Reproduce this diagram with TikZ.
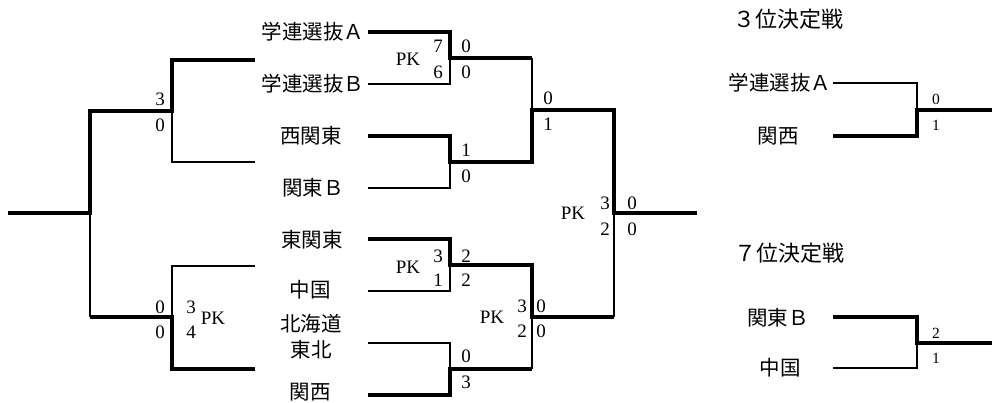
\documentclass[tikz,border=0pt]{standalone}
\usepackage{fontspec}
\setmainfont{Liberation Serif}
\newfontfamily\jpfont{Noto Sans CJK JP}
\usepackage{tikz}
\tikzstyle{team} = [inner sep=0pt, align=center, font=\jpfont\fontsize{20.5}{26}\selectfont]
\tikzstyle{title} = [inner sep=0pt, anchor=west, font=\jpfont\fontsize{22}{26}\selectfont]
\tikzstyle{score} = [inner sep=0pt, font=\fontsize{19}{19}\selectfont]
\tikzstyle{sscore} = [inner sep=0pt, font=\fontsize{15.5}{15.5}\selectfont]
\tikzstyle{win} = [draw, line width=4.2pt]
\tikzstyle{lose} = [draw, line width=1.6pt]

\begin{document}
\begin{tikzpicture}[x=1pt, y=-1pt]
				\useasboundingbox (0,0) rectangle (992,403);

				% teams
				\node [team] (gakuA) at (313,32) {学連選抜Ａ};
				\node [team] (gakuB) at (313,84) {学連選抜Ｂ};
				\node [team] (nishikanto) at (311,136) {西関東};
				\node [team] (kantoB) at (313,188) {関東Ｂ};
				\node [team] (higashikanto) at (312,240) {東関東};
				\node [team] (chugoku) at (310,290) {中国};
				\node [team] (hokkaido) at (311,337) {北海道\\東北};
				\node [team] (kansai) at (310,392) {関西};

				% bracket corners
				\coordinate (a1) at (368,32);
				\coordinate (a2) at (368,84);
				\coordinate (a3) at (368,136);
				\coordinate (a4) at (368,188);
				\coordinate (a5) at (368,239);
				\coordinate (a6) at (368,291);
				\coordinate (a7) at (368,343);
				\coordinate (a8) at (368,395);
				\coordinate (b1) at (450,58);
				\coordinate (b2) at (450,162);
				\coordinate (b3) at (450,265);
				\coordinate (b4) at (450,369);
				\coordinate (c1) at (532,110);
				\coordinate (c2) at (532,317);
				\coordinate (d1) at (614,213);
				\coordinate (e1) at (697,213);

				\path [win] (a1) -| (b1) -- (b1 -| c1);
				\path [lose] (a2) -| (b1);
				\path [win] (a3) -| (b2) -| (c1) -| (d1) -- (e1);
				\path [lose] (a4) -| (b2);
				\path [win] (a5) -| (b3) -| (c2) -- (c2 -| d1);
				\path [lose] (a6) -| (b3);
				\path [lose] (a7) -| (b4);
				\path [win] (a8) -| (b4) -- (b4 -| c2);
				\path [lose] (b1 -| c1) -- (c1);
				\path [lose] (b4 -| c2) -- (c2);
				\path [lose] (c2 -| d1) -- (d1);

				% scores
				\node [score] (m1pk) at (408,59) {PK};
				\node [score] (m1a) at (438,46) {7};
				\node [score] (m1b) at (438,72) {6};
				\node [score] (m1c) at (466,46) {0};
				\node [score] (m1d) at (466,72) {0};
				\node [score] (m2a) at (466,150) {1};
				\node [score] (m2b) at (466,176) {0};
				\node [score] (m3pk) at (408,267) {PK};
				\node [score] (m3a) at (438,256) {3};
				\node [score] (m3b) at (438,280) {1};
				\node [score] (m3c) at (466,256) {2};
				\node [score] (m3d) at (466,280) {2};
				\node [score] (m4a) at (466,356) {0};
				\node [score] (m4b) at (466,382) {3};
				\node [score] (s1a) at (548,98) {0};
				\node [score] (s1b) at (548,124) {1};
				\node [score] (s2pk) at (492,317) {PK};
				\node [score] (s2a) at (522,306) {3};
				\node [score] (s2b) at (522,331) {2};
				\node [score] (s2c) at (541,306) {0};
				\node [score] (s2d) at (541,331) {0};
				\node [score] (fpk) at (573,213) {PK};
				\node [score] (fa) at (605,203) {3};
				\node [score] (fb) at (605,229) {2};
				\node [score] (fc) at (632,203) {0};
				\node [score] (fd) at (632,229) {0};

				% left bracket
				\coordinate (l0) at (8,213);
				\coordinate (l1) at (90,213);
				\coordinate (l2) at (172,111);
				\coordinate (l3) at (255,60);
				\coordinate (l4) at (255,162);
				\coordinate (l5) at (172,317);
				\coordinate (l6) at (255,266);
				\coordinate (l7) at (255,369);

				\path [win] (l0) -- (l1) |- (l2) |- (l3);
				\path [lose] (l2) |- (l4);
				\path [lose] (l1) -- (l1 |- l5);
				\path [win] (l1 |- l5) -- (l5) |- (l7);
				\path [lose] (l5) |- (l6);

				\node [score] (lu1) at (160,99) {3};
				\node [score] (lu2) at (160,125) {0};
				\node [score] (ll1) at (160,307) {0};
				\node [score] (ll2) at (160,332) {0};
				\node [score] (ll3) at (191,307) {3};
				\node [score] (ll4) at (191,332) {4};
				\node [score] (llpk) at (213,318) {PK};

				% 3rd place
				\node [title] (title3) at (733,19) {３位決定戦};
				\node [team] (gakuA3) at (780,83) {学連選抜Ａ};
				\node [team] (kansai3) at (778,136) {関西};
				\coordinate (q1) at (833,83);
				\coordinate (q2) at (833,136);
				\coordinate (q3) at (917,110);
				\coordinate (q4) at (992,110);
				\path [lose] (q1) -| (q3);
				\path [win] (q2) -| (q3) -- (q4);
				\node [sscore] (t3a) at (936,99) {0};
				\node [sscore] (t3b) at (936,125) {1};

				% 7th place
				\node [title] (title7) at (734,253) {７位決定戦};
				\node [team] (kantoB7) at (778,318) {関東Ｂ};
				\node [team] (chugoku7) at (780,368) {中国};
				\coordinate (r1) at (833,317);
				\coordinate (r2) at (833,368);
				\coordinate (r3) at (917,343);
				\coordinate (r4) at (992,343);
				\path [win] (r1) -| (r3) -- (r4);
				\path [lose] (r2) -| (r3);
				\node [sscore] (t7a) at (936,333) {2};
				\node [sscore] (t7b) at (936,358) {1};
			\end{tikzpicture}
\end{document}
